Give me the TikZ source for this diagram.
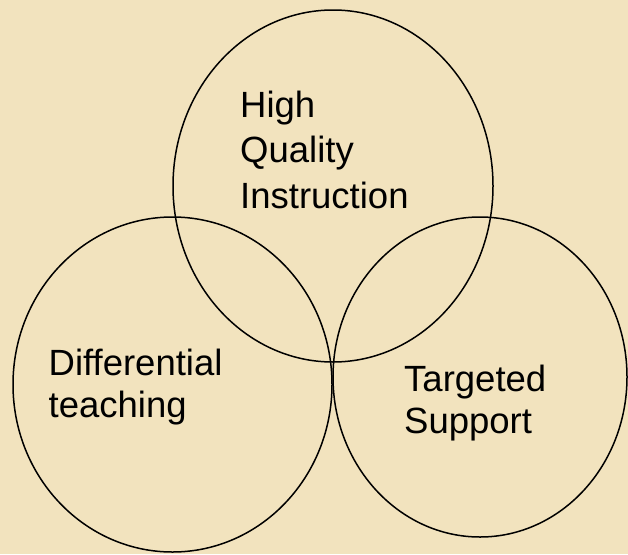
\documentclass[tikz,border=0pt]{standalone}
\usepackage{fontspec}
\setmainfont{Liberation Sans}
\usetikzlibrary{shapes.geometric,positioning}

\definecolor{parchment}{RGB}{242,227,190}

\tikzset{
  ring/.style={draw=black,line width=1.5pt,ellipse,inner sep=0pt},
  label/.style={anchor=base west,align=left,inner sep=0pt,text=black}
}

\begin{document}
\begin{tikzpicture}[x=1pt,y=-1pt]
\useasboundingbox (0,0) rectangle (628,554);
\fill[parchment] (0,0) rectangle (628,554);
% the three rings
\node[ring,minimum width=320pt,minimum height=352pt] (hqi) at (333,186) {};
\node[ring,minimum width=319pt,minimum height=335pt] (dt) at (172.5,384.5) {};
\node[ring,minimum width=294pt,minimum height=320pt] (ts) at (480,377) {};
% labels
\node[label,font=\fontsize{36.5}{45.5}\selectfont] (hqit) at (240,208.3) {High\\Quality\\Instruction};
\node[label,font=\fontsize{36.5}{42.3}\selectfont] (dtt) at (48.5,417.3) {Differential\\teaching};
\node[label,font=\fontsize{36.5}{41.7}\selectfont] (tst) at (404,433.3) {Targeted\\Support};
\end{tikzpicture}
\end{document}
